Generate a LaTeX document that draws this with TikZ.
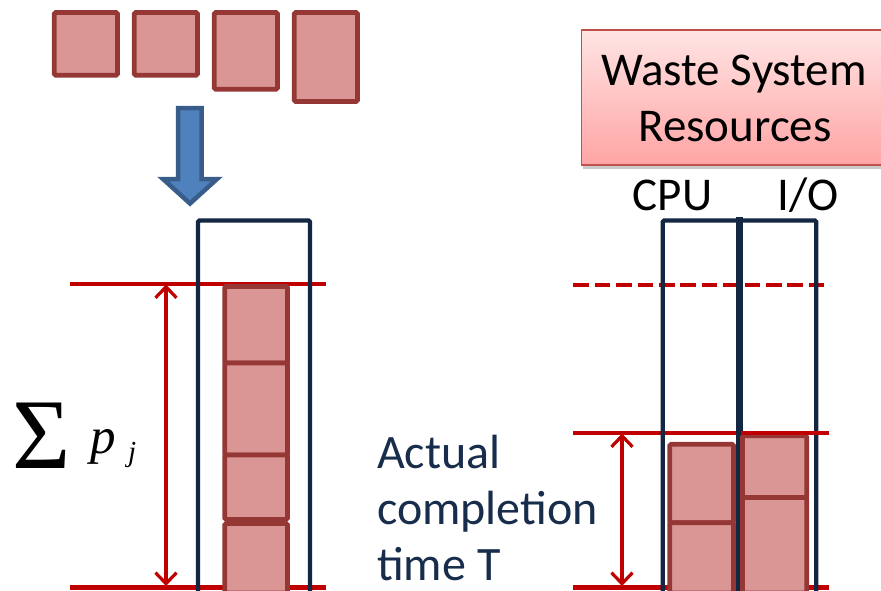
\documentclass[tikz,border=0pt]{standalone}
\usepackage{fontspec}
\setmainfont{Carlito}
\newfontfamily\timesfont{Liberation Serif}
\usetikzlibrary{arrows.meta,shadows}

\definecolor{jobfill}{HTML}{D99694}
\definecolor{jobdraw}{HTML}{953735}
\definecolor{navy}{RGB}{19,39,67}
\definecolor{limitred}{HTML}{C00000}
\definecolor{arrowfill}{HTML}{4F81BD}
\definecolor{arrowdraw}{HTML}{385D8A}
\definecolor{labelnavy}{RGB}{23,45,75}
\definecolor{wastetop}{RGB}{255,228,228}
\definecolor{wastebottom}{RGB}{255,164,164}
\definecolor{wasteedge}{HTML}{C0504D}

\tikzset{
  job/.style={fill=jobfill, draw=jobdraw, line width=4.8pt, rounded corners=1.5pt},
  column/.style={draw=navy, line width=4.3pt, rounded corners=1.5pt},
  limit/.style={draw=limitred, line width=4.4pt},
  dashlimit/.style={limit, dash pattern=on 15.7pt off 5.7pt},
  span/.style={draw=limitred, line width=3.2pt, {Straight Barb[length=11pt,width=21pt]}-{Straight Barb[length=11pt,width=21pt]}},
  bigtext/.style={font=\fontsize{47}{56}\selectfont, inner sep=0pt},
  sidetext/.style={inner sep=0pt, anchor=base west, text=labelnavy, font=\fontsize{48}{56}\selectfont},
  wastebox/.style={draw=wasteedge, line width=1.8pt, top color=wastetop, bottom color=wastebottom,
    drop shadow={shadow xshift=1pt, shadow yshift=-4pt, opacity=0.35, fill=black!60}},
}

\begin{document}
\begin{tikzpicture}[x=1pt, y=-1pt]
\useasboundingbox (0,0) rectangle (881,590);

% jobs waiting to be scheduled
\draw[job] (54.2,12.5) rectangle (117.5,75.2);
\draw[job] (134.2,12.5) rectangle (197.5,75.2);
\draw[job] (214.2,12.5) rectangle (277.5,89.2);
\draw[job] (294.2,12.5) rectangle (357.5,101.5);

% block arrow into the single machine
\draw[fill=arrowfill, draw=arrowdraw, line width=4.5pt, line join=miter]
  (178,108) -- (201.7,108) -- (201.7,179) -- (217,179) -- (190,203.5)
  -- (163,179) -- (178,179) -- cycle;

% ---- left: serial execution ----
\coordinate (lt0) at (70,284);   \coordinate (lt1) at (326,284);
\coordinate (lb0) at (70,587.5); \coordinate (lb1) at (326,587.5);
\draw[limit] (lt0) -- (lt1);
\draw[limit] (lb0) -- (lb1);

\draw[job] (224.8,286.5) rectangle (287.5,363);
\draw[job] (224.8,363) rectangle (287.5,455);
\draw[job] (224.8,455) rectangle (287.5,519.5);
\draw[job] (224.8,523.5) rectangle (287.5,593);

\draw[column] (198,592) -- (198,220.5) -- (310,220.5) -- (310,592);

\coordinate (sa) at (166,284.5);
\coordinate (sb) at (166,586);
\draw[span] (sa) -- (sb);

\node[inner sep=0pt, anchor=center, font=\timesfont\fontsize{100}{100}\selectfont] (sigma) at (42,436) {Σ};
\node[inner sep=0pt, anchor=base west, font=\timesfont\itshape\fontsize{51}{51}\selectfont] (pj) at (90,453) {p};
\node[inner sep=0pt, anchor=base west, font=\timesfont\itshape\fontsize{29}{29}\selectfont] (jj) at (128,461) {j};

% ---- right: CPU and I/O in parallel ----
\node[wastebox, minimum width=305pt, minimum height=135pt, inner sep=0pt] (waste) at (734,97.5) {};
\node[bigtext, anchor=base] (w1) at (734,85) {Waste System};
\node[bigtext, anchor=base] (w2) at (735,141.7) {Resources};

\node[bigtext, anchor=base] (cpu) at (672.5,210.7) {CPU};
\node[bigtext, anchor=base] (io) at (808,210.7) {I/O};

\coordinate (rd0) at (573.3,285); \coordinate (rd1) at (826,285);
\coordinate (rt0) at (573,433);   \coordinate (rt1) at (829,433);
\coordinate (rb0) at (573,587.5); \coordinate (rb1) at (829,587.5);
\draw[dashlimit] (rd0) -- (rd1);
\draw[limit] (rt0) -- (rt1);
\draw[limit] (rb0) -- (rb1);

\draw[job] (669.8,444.2) rectangle (733.5,522.7);
\draw[job] (669.8,522.7) rectangle (733.5,593);

\draw[column] (662.7,592) -- (662.7,220.5) -- (816.3,220.5) -- (816.3,592);
\draw[draw=navy, line width=7.5pt] (739.7,217) -- (739.7,592);

\draw[job] (742.5,435.8) rectangle (806.8,497.5);
\draw[job] (742.5,497.5) rectangle (806.8,593);
\draw[limit] (741,433) -- (rt1);

\coordinate (ta) at (622,433.5);
\coordinate (tb) at (622,586);
\draw[span] (ta) -- (tb);

\node[sidetext] (a1) at (377,468) {Actual};
\node[sidetext] (a2) at (377,524) {completion};
\node[sidetext] (a3) at (377,580) {time T};
\end{tikzpicture}
\end{document}
